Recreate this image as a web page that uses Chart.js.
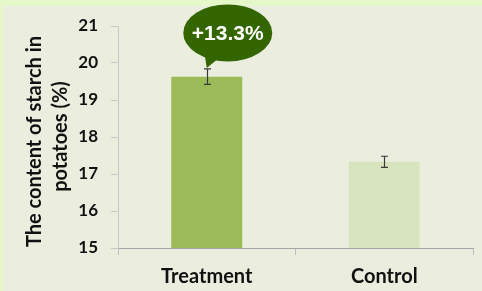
<!DOCTYPE html>
<html><head><meta charset="utf-8">
<script src="https://cdn.jsdelivr.net/npm/chart.js@4"></script>
<style>html,body{margin:0;padding:0;background:#ebeedf;overflow:hidden}</style>
</head><body>
<canvas id="c" width="482" height="291" style="display:block;width:482px;height:291px"></canvas>
<script>
const categories = ['Treatment', 'Control'];
const starchValues = [19.63, 17.33];
const errorValues = [0.21, 0.15];
const barColors = ['#9bbb59', '#d7e4bd'];
const yTicks = [15, 16, 17, 18, 19, 20, 21];
const yTitle = ['The content of starch in', 'potatoes (%)'];
const calloutText = '+13.3%';
const calloutIndex = 0;

const bgPlugin = {
  id: 'bg',
  beforeDraw(chart) {
    const ctx = chart.ctx;
    ctx.save();
    ctx.fillStyle = '#e6f7ca';
    ctx.fillRect(0, 0, chart.width, chart.height);
    ctx.fillStyle = '#ebeedf';
    ctx.fillRect(3, 6, chart.width - 3, chart.height - 6);
    ctx.restore();
  }
};

const titlePlugin = {
  id: 'ytitle',
  afterDraw(chart) {
    const ctx = chart.ctx, a = chart.chartArea;
    const mid = (a.top + a.bottom) / 2;
    const lines = [{ x: 41, y: mid + 4.5 }, { x: 66.5, y: mid - 0.5 }];
    ctx.save();
    ctx.fillStyle = '#111';
    ctx.font = 'bold 20px Lato, sans-serif';
    ctx.textAlign = 'center';
    ctx.textBaseline = 'alphabetic';
    yTitle.forEach((t, i) => {
      ctx.save();
      ctx.translate(lines[i].x, lines[i].y);
      ctx.rotate(-Math.PI / 2);
      ctx.fillText(t, 0, 0);
      ctx.restore();
    });
    ctx.restore();
  }
};

const errPlugin = {
  id: 'err',
  afterDatasetsDraw(chart) {
    const ctx = chart.ctx, y = chart.scales.y;
    const meta = chart.getDatasetMeta(0);
    ctx.save();
    ctx.strokeStyle = '#3a3a3a';
    ctx.lineWidth = 1.2;
    meta.data.forEach((bar, i) => {
      const x = Math.round(bar.x) + 0.5;
      const yt = y.getPixelForValue(starchValues[i] + errorValues[i]);
      const yb = y.getPixelForValue(starchValues[i] - errorValues[i]);
      ctx.beginPath();
      ctx.moveTo(x, yt); ctx.lineTo(x, yb);
      ctx.moveTo(x - 3.5, yt); ctx.lineTo(x + 3.5, yt);
      ctx.moveTo(x - 3.5, yb); ctx.lineTo(x + 3.5, yb);
      ctx.stroke();
    });
    ctx.restore();
  }
};

const calloutPlugin = {
  id: 'callout',
  afterDraw(chart) {
    const ctx = chart.ctx, y = chart.scales.y;
    const bar = chart.getDatasetMeta(0).data[calloutIndex];
    const tipX = bar.x;
    const tipY = y.getPixelForValue(starchValues[calloutIndex] + errorValues[calloutIndex]) - 1;
    const cx = tipX + 21, cy = tipY - 35, rx = 44.5, ry = 28.5;
    ctx.save();
    ctx.fillStyle = '#336600';
    ctx.beginPath();
    ctx.ellipse(cx, cy, rx, ry, 0, 0, Math.PI * 2);
    ctx.fill();
    ctx.beginPath();
    ctx.moveTo(cx - 23, cy + 22);
    ctx.lineTo(tipX, tipY);
    ctx.lineTo(cx - 10, cy + 26);
    ctx.closePath();
    ctx.fill();
    ctx.fillStyle = '#ffffff';
    ctx.font = 'bold 21px "Liberation Sans", Arial, sans-serif';
    ctx.textAlign = 'center';
    ctx.textBaseline = 'middle';
    ctx.fillText(calloutText, cx, cy + 1);
    ctx.restore();
  }
};

new Chart(document.getElementById('c'), {
  type: 'bar',
  data: {
    labels: categories,
    datasets: [{
      data: starchValues,
      backgroundColor: barColors,
      borderWidth: 0,
      categoryPercentage: 1,
      barPercentage: 0.4
    }]
  },
  options: {
    responsive: false,
    animation: false,
    devicePixelRatio: 1,
    layout: { padding: { left: 0, right: 9, top: 26, bottom: 0 } },
    plugins: { legend: { display: false }, tooltip: { enabled: false } },
    scales: {
      x: {
        grid: { offset: true, drawOnChartArea: false, drawTicks: true, tickLength: 7, color: '#bfbfbf' },
        border: { color: '#a6a6a6' },
        ticks: { color: '#111', padding: 10, font: { family: 'Lato', weight: 'bold', size: 20 } },
        afterFit(s) { s.height = 43; }
      },
      y: {
        min: 15, max: 21,
        afterBuildTicks(s) { s.ticks = yTicks.map(v => ({ value: v })); },
        grid: { drawOnChartArea: false, drawTicks: true, tickLength: 7, color: '#c8c8c8' },
        border: { color: '#c8c8c8' },
        ticks: { color: '#111', padding: 13, font: { family: 'Lato', weight: 'bold', size: 17 } },
        afterFit(s) { s.width = 118; }
      }
    }
  },
  plugins: [bgPlugin, errPlugin, calloutPlugin, titlePlugin]
});
</script>
</body></html>
